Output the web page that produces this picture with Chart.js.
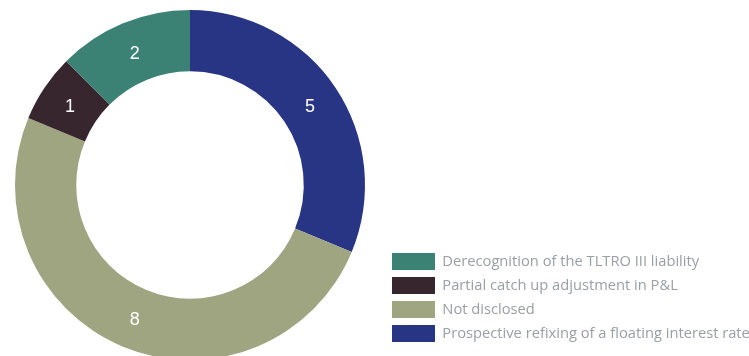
<!DOCTYPE html>
<html>
<head>
<meta charset="utf-8">
<script src="https://cdn.jsdelivr.net/npm/chart.js@4"></script>
<style>
  html, body { margin: 0; padding: 0; background: #fff; overflow: hidden; }
  /* canvas starts a bit left of the window so the ring sits where it does in the original */
  #wrap { position: relative; width: 769px; height: 356px; margin-left: -20px; }
</style>
</head>
<body>
<div id="wrap"><canvas id="chart"></canvas></div>
<script>
// slices go clockwise from the top; legend shows them reversed
const categories = [
  'Prospective refixing of a floating interest rate',
  'Not disclosed',
  'Partial catch up adjustment in P&L',
  'Derecognition of the TLTRO III liability'
];
const counts = [5, 8, 1, 2];
const colors = ['#283484', '#9fa580', '#38262f', '#3b8275'];

// white numbers in the middle of each ring segment
const sliceLabels = {
  id: 'sliceLabels',
  afterDatasetsDraw(chart) {
    const ctx = chart.ctx;
    const meta = chart.getDatasetMeta(0);
    ctx.save();
    ctx.font = '18px "Liberation Sans", Arial, sans-serif';
    ctx.fillStyle = '#ffffff';
    ctx.textAlign = 'center';
    ctx.textBaseline = 'middle';
    meta.data.forEach(function (arc, i) {
      const p = arc.tooltipPosition();
      ctx.fillText(String(counts[i]), p.x, p.y + 2);
    });
    ctx.restore();
  }
};

new Chart(document.getElementById('chart'), {
  type: 'doughnut',
  data: {
    labels: categories,
    datasets: [{
      data: counts,
      backgroundColor: colors,
      borderWidth: 0,
      clip: false
    }]
  },
  options: {
    responsive: true,
    maintainAspectRatio: false,
    animation: false,
    radius: 175,
    cutout: '65%',
    layout: { padding: { left: 15, right: 0, top: 21, bottom: 7 } },
    plugins: {
      legend: {
        position: 'right',
        align: 'end',
        reverse: true,
        maxWidth: 364,
        labels: {
          boxWidth: 43,
          boxHeight: 17,
          padding: 7,
          color: '#9a9fa5',
          font: { family: '"Open Sans", sans-serif', size: 14.7 }
        }
      },
      tooltip: { enabled: false }
    }
  },
  plugins: [sliceLabels]
});
</script>
</body>
</html>
